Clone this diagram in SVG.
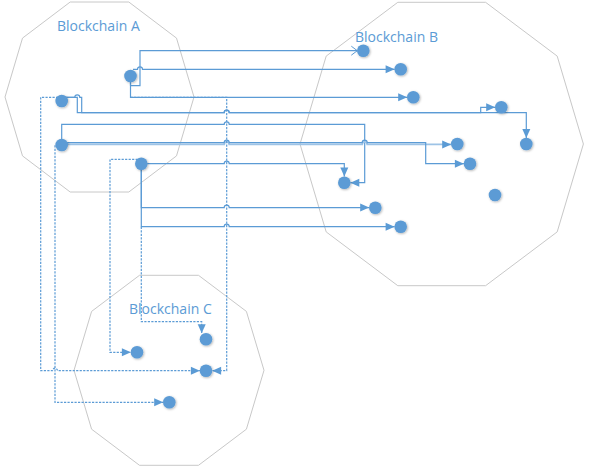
<svg xmlns="http://www.w3.org/2000/svg" width="589" height="473" viewBox="0 0 589 473">
<defs>
<style>
.zone{fill:none;stroke:#c8c8c8;stroke-width:1}
.lbl{font-family:"Open Sans","Noto Sans",sans-serif;font-size:14px;fill:#5b9bd5}
.c{fill:none;stroke:#5b9bd5;stroke-width:1.2}
.lt{stroke:#9dc3e6;stroke-width:1.8}
.d{fill:none;stroke:#5b9bd5;stroke-width:1.2;stroke-dasharray:2.2 1.3}
.n{fill:#5b9bd5;filter:url(#sh)}
</style>
<filter id="sh" x="-50%" y="-50%" width="200%" height="200%">
<feDropShadow dx="0.8" dy="0.8" stdDeviation="0.9" flood-color="#000" flood-opacity="0.3"/>
</filter>
<marker id="ar" markerUnits="userSpaceOnUse" markerWidth="10" markerHeight="9" refX="9" refY="4" orient="auto" overflow="visible">
<path d="M0,0 L9,4 L0,8 z" fill="#5b9bd5"/>
</marker>
<marker id="op" markerUnits="userSpaceOnUse" markerWidth="9" markerHeight="10" refX="6" refY="4.5" orient="auto" overflow="visible">
<path d="M0,0 L6,4.5 L0,9" fill="none" stroke="#5b9bd5" stroke-width="1"/>
</marker>
</defs>
<g id="zones">
<polygon id="zoneA" class="zone" points="194,97 176.5,155.9 128.8,192 70.2,192 22.5,155.9 5,97 22.5,38.1 70.2,2 128.8,2 176.5,38.1"/>
<polygon id="zoneB" class="zone" points="583.4,144 557.2,231.9 485.6,285.7 397.8,285.7 326.2,231.9 300,144 326.2,56.1 397.8,2.3 485.6,2.3 557.2,56.1"/>
<polygon id="zoneC" class="zone" points="264,370.3 246.4,429.2 198.5,465.3 139.5,465.3 91.6,429.2 74,370.3 91.6,311.4 139.5,275.3 198.5,275.3 246.4,311.4"/>
</g>
<g id="connectors">
<path class="c" d="M130.5,76 V85.7 H140 V50.7 H357.3" marker-end="url(#op)"/>
<path class="c" d="M133,69.3 H137.5 a2.5,2.5 0 0 1 5,0 H394.6" marker-end="url(#ar)"/>
<path class="c" d="M130.5,76 V97.3 H407.2" marker-end="url(#ar)"/>
<path class="c" d="M61.7,97.3 H74.8 a2.5,2.5 0 0 1 5,0 H81.7 V112.7 H224.2 a2.5,2.5 0 0 1 5,0 H480.7 V107.3 H495.2" marker-end="url(#ar)"/>
<path class="c" d="M61.7,97.3 H77.3 V112.7 H224.2 a2.5,2.5 0 0 1 5,0 H526.3 V137.9" marker-end="url(#ar)"/>
<path class="c" d="M61.7,145 V124.3 H224.2 a2.5,2.5 0 0 1 5,0 H364.7 V182.7 H350.3" marker-end="url(#ar)"/>
<path class="c lt" d="M61.7,144.4 H224.2 a2.5,2.5 0 0 1 5,0 H362.2 a2.5,2.5 0 0 1 5,0 H451.2" marker-end="url(#ar)"/>
<path class="c" d="M61.7,142.6 H224.2 a2.5,2.5 0 0 1 5,0 H362.2 a2.5,2.5 0 0 1 5,0 H425.7 V163.7 H463.9" marker-end="url(#ar)"/>
<path class="c" d="M141.3,163.7 H224.2 a2.5,2.5 0 0 1 5,0 H344.3 V176.6" marker-end="url(#ar)"/>
<path class="c" d="M141.3,163.7 V207.6 H224.2 a2.5,2.5 0 0 1 5,0 H369.2" marker-end="url(#ar)"/>
<path class="c" d="M141.3,163.7 V226.7 H224.2 a2.5,2.5 0 0 1 5,0 H394.6" marker-end="url(#ar)"/>
<path class="d" d="M130.5,97.3 H226.7 V370.7 H212.1" marker-end="url(#ar)"/>
<path class="d" d="M61.7,97.3 H40.7 V370.7 H52.5 a2.5,2.5 0 0 1 5,0 H199.9" marker-end="url(#ar)"/>
<path class="d" d="M61.7,145 H55 V402.3 H163.2" marker-end="url(#ar)"/>
<path class="d" d="M141.3,159.3 H110 V352.3 H130.9" marker-end="url(#ar)"/>
<path class="d" d="M141.3,226.7 V321.7 H201.7 V333.3" marker-end="url(#ar)"/>
</g>
<g id="nodesA">
<circle id="A1" class="n" cx="130.5" cy="76" r="6.3"/>
<circle id="A2" class="n" cx="61.7" cy="101" r="6.3"/>
<circle id="A3" class="n" cx="61.7" cy="145" r="6.3"/>
<circle id="A4" class="n" cx="141.3" cy="163.7" r="6.3"/>
</g>
<g id="nodesB">
<circle id="B1" class="n" cx="363.3" cy="50.7" r="6.3"/>
<circle id="B2" class="n" cx="400.7" cy="69.3" r="6.3"/>
<circle id="B3" class="n" cx="413.3" cy="97.3" r="6.3"/>
<circle id="B4" class="n" cx="501.3" cy="107.3" r="6.3"/>
<circle id="B5" class="n" cx="457.3" cy="144" r="6.3"/>
<circle id="B6" class="n" cx="526.3" cy="144" r="6.3"/>
<circle id="B7" class="n" cx="470" cy="163.7" r="6.3"/>
<circle id="B8" class="n" cx="344.3" cy="182.7" r="6.3"/>
<circle id="B9" class="n" cx="495" cy="195" r="6.3"/>
<circle id="B10" class="n" cx="375.3" cy="207.7" r="6.3"/>
<circle id="B11" class="n" cx="400.7" cy="226.7" r="6.3"/>
</g>
<g id="nodesC">
<circle id="C1" class="n" cx="206" cy="339.3" r="6.3"/>
<circle id="C2" class="n" cx="137" cy="352.3" r="6.3"/>
<circle id="C3" class="n" cx="206" cy="370.7" r="6.3"/>
<circle id="C4" class="n" cx="169.3" cy="402.3" r="6.3"/>
</g>
<g id="labels">
<text class="lbl" x="57" y="31.3">Blockchain A</text>
<text class="lbl" x="355" y="41.7">Blockchain B</text>
<text class="lbl" x="129" y="314">Blockchain C</text>
</g>
</svg>
